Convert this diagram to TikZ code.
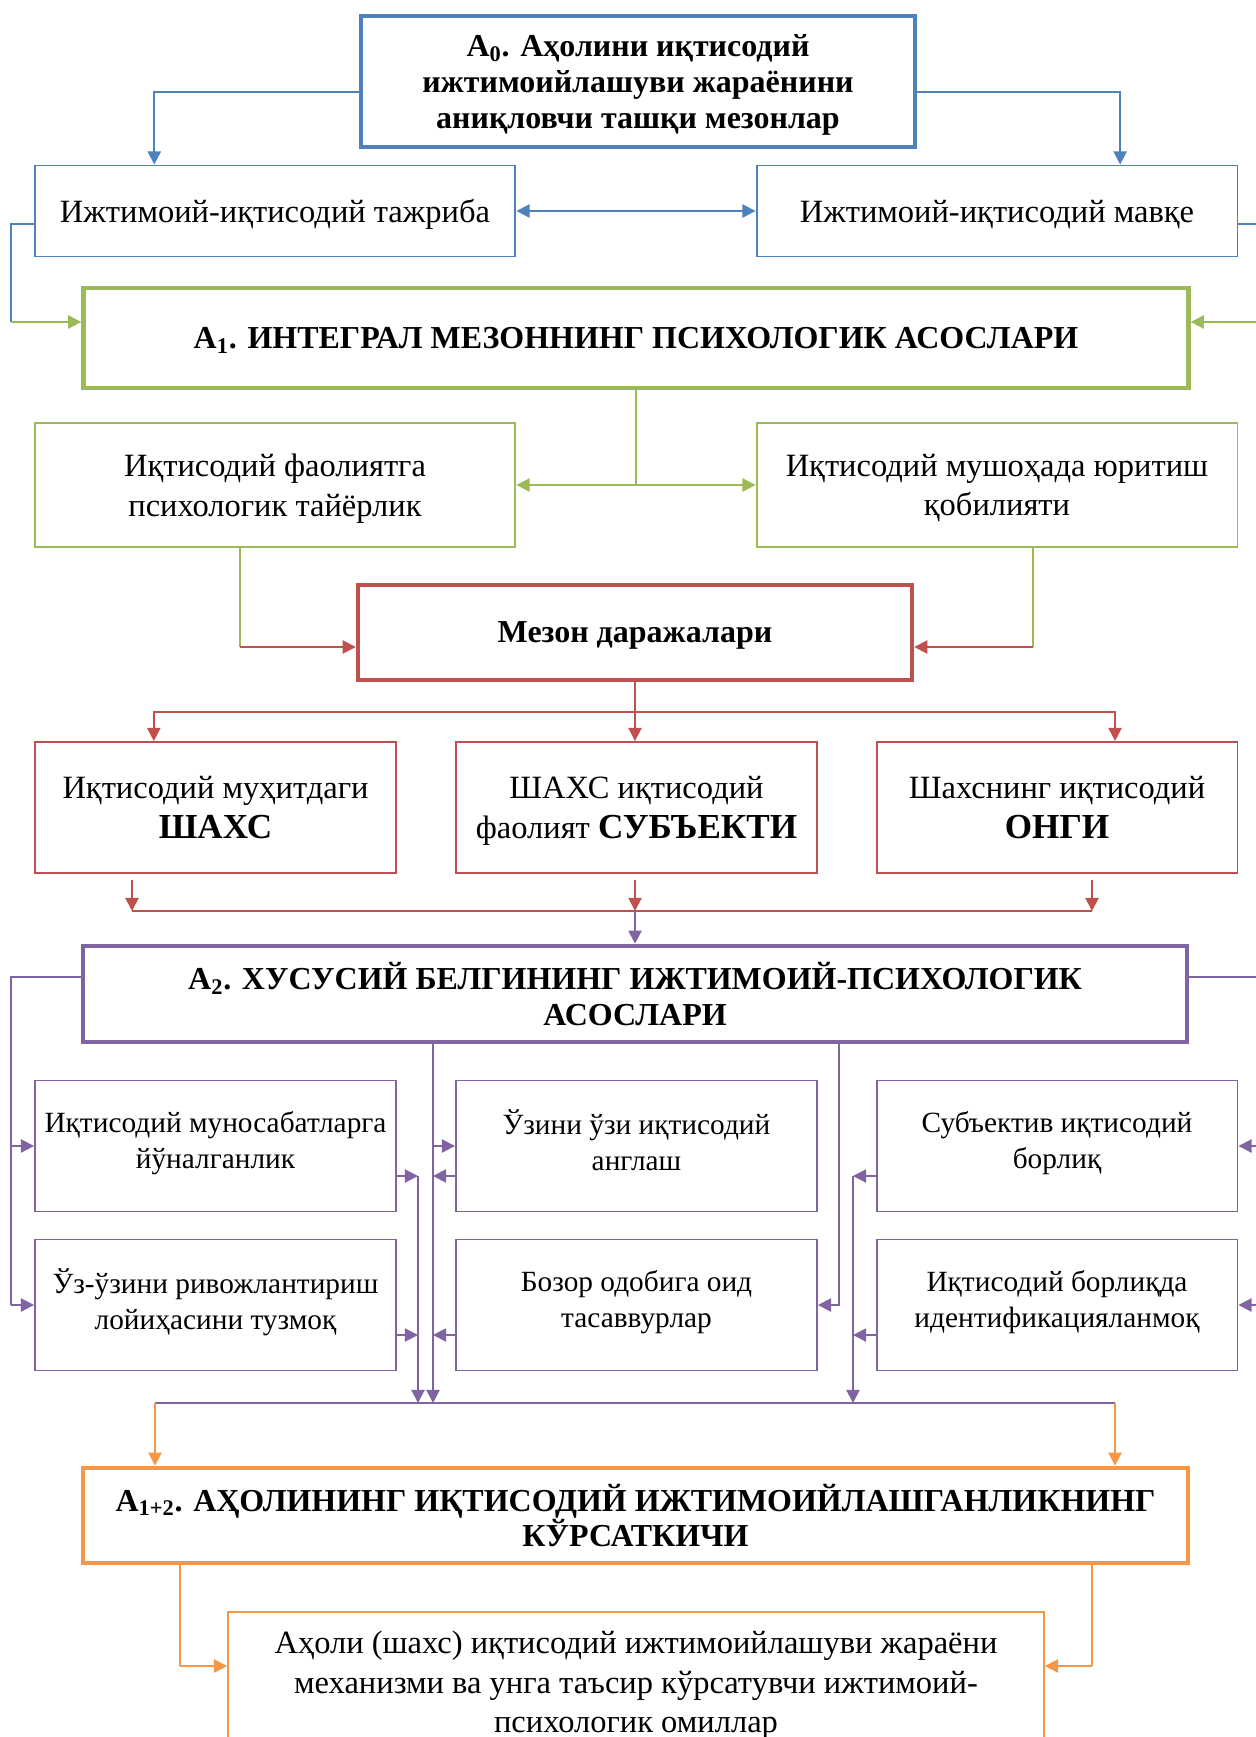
\documentclass[tikz,border=0pt]{standalone}
\usepackage{fontspec}
\setmainfont{Liberation Serif}
\usetikzlibrary{arrows.meta,calc}
\tikzset{
	>={Triangle[length=7.5pt,width=7.5pt]},
}
\definecolor{mblue}{HTML}{4F81BD}
\definecolor{mgreen}{HTML}{9BBB59}
\definecolor{mred}{HTML}{C0504D}
\definecolor{mpurple}{HTML}{8064A2}
\definecolor{morange}{HTML}{F79646}
\newcommand{\bigcaps}[1]{{\fontsize{20}{22}\selectfont\bfseries #1}}

\begin{document}
\begin{tikzpicture}[x=0.02cm, y=-0.02cm,
box/.style = {rectangle, draw, align=center, inner sep=0, text depth=0pt, line width=1.1pt, font=\fontsize{18.5}{22.5}\selectfont},
mainbox/.style = {box, line width=2.6pt, font=\fontsize{18.2}{20.3}\selectfont\bfseries},
wide/.style = {minimum width=9.62cm},
narrow/.style = {minimum width=7.22cm, minimum height=2.62cm},
small/.style = {narrow, draw=mpurple, text depth=7pt, font=\fontsize{16.7}{20.5}\selectfont},
link/.style = {line width=1.1pt}]
\useasboundingbox (0,0) rectangle (1256,1737);

\node[mainbox, draw=mblue, minimum width=11.08cm, minimum height=2.62cm] (a0) at (638,81.5) {A\textsubscript{0}. Аҳолини иқтисодий\\ижтимоийлашуви жараёнини\\аниқловчи ташқи мезонлар};
\node[box, wide, draw=mblue, minimum height=1.82cm] (tajriba) at (275,211) {Ижтимоий-иқтисодий тажриба};
\node[box, wide, draw=mblue, minimum height=1.82cm] (mavqe) at (997,211) {Ижтимоий-иқтисодий мавқе};
\node[mainbox, draw=mgreen, minimum width=22.1cm, minimum height=2cm] (a1) at (636,338) {A\textsubscript{1}. ИНТЕГРАЛ МЕЗОННИНГ ПСИХОЛОГИК АСОСЛАРИ};
\node[box, wide, draw=mgreen, minimum height=2.48cm] (tayyor) at (275,485) {Иқтисодий фаолиятга\\психологик тайёрлик};
\node[box, wide, draw=mgreen, minimum height=2.48cm] (mushohada) at (997,485) {Иқтисодий мушоҳада юритиш\\қобилияти};
\node[mainbox, draw=mred, minimum width=11.08cm, minimum height=1.9cm] (mezon) at (635,632.5) {Мезон даражалари};
\node[box, narrow, draw=mred] (shaxs) at (215.5,807.5) {Иқтисодий муҳитдаги\\\bigcaps{ШАХС}};
\node[box, narrow, draw=mred] (subyekt) at (636.5,807.5) {ШАХС иқтисодий\\фаолият \bigcaps{СУБЪЕКТИ}};
\node[box, narrow, draw=mred] (ongi) at (1057,807.5) {Шахснинг иқтисодий\\\bigcaps{ОНГИ}};
\node[mainbox, draw=mpurple, minimum width=22.08cm, minimum height=1.92cm] (a2) at (635,994) {A\textsubscript{2}. ХУСУСИЙ БЕЛГИНИНГ ИЖТИМОИЙ-ПСИХОЛОГИК\\АСОСЛАРИ};
\node[box, small] (m11) at (215.5,1146) {Иқтисодий муносабатларга\\йўналганлик};
\node[box, small] (m12) at (636.5,1146) {Ўзини ўзи иқтисодий\\англаш};
\node[box, small] (m13) at (1057,1146) {Субъектив иқтисодий\\борлиқ};
\node[box, small] (m21) at (215.5,1305) {Ўз-ўзини ривожлантириш\\лойиҳасини тузмоқ};
\node[box, small] (m22) at (636.5,1305) {Бозор одобига оид\\тасаввурлар};
\node[box, small] (m23) at (1057,1305) {Иқтисодий борлиқда\\идентификацияланмоқ};
\node[mainbox, draw=morange, minimum width=22.1cm, minimum height=1.9cm] (a12) at (635.5,1515.5) {A\textsubscript{1+2}. АҲОЛИНИНГ ИҚТИСОДИЙ ИЖТИМОИЙЛАШГАНЛИКНИНГ\\КЎРСАТКИЧИ};
\node[box, draw=morange, minimum width=16.32cm, minimum height=2.8cm] (omil) at (636,1682) {Аҳоли (шахс) иқтисодий ижтимоийлашуви жараёни\\механизми ва унга таъсир кўрсатувчи ижтимоий-\\психологик омиллар};

\coordinate (lc1) at (11,322);
\coordinate (rc1) at (1262,322);
\coordinate (gl) at (240,647);
\coordinate (gr) at (1033,647);
\coordinate (rbus) at (635,712);
\coordinate (pl) at (132,911);
\coordinate (pm) at (635,911);
\coordinate (pr) at (1092,911);
\coordinate (lc2) at (11,1305);
\coordinate (rc2) at (1262,1305);
\coordinate (colA) at (418,1403);
\coordinate (colB) at (433,1403);
\coordinate (tapC) at (839,1305);
\coordinate (colC) at (853,1403);
\coordinate (ol) at (155,1403);
\coordinate (or) at (1115,1403);
\coordinate (ql) at (180,1666);
\coordinate (qr) at (1092,1666);

\draw[link, mblue, ->] ([yshift=-0.21cm]a0.west) -| ($(tajriba.north west)!0.25!(tajriba.north east)$);
\draw[link, mblue, ->] ([yshift=-0.21cm]a0.east) -| ($(mavqe.north west)!0.755!(mavqe.north east)$);
\draw[link, mblue, <->] (tajriba) -- (mavqe);
\draw[link, mblue] ([yshift=-0.26cm]tajriba.west) -| (lc1);
\draw[link, mblue] ([yshift=-0.26cm]mavqe.east) -| (rc1);
\draw[link, mgreen, ->] (lc1) -- (lc1 -| a1.west);
\draw[link, mgreen, ->] (rc1) -- (rc1 -| a1.east);

\draw[link, mgreen] (a1.south) -- (a1.south |- tayyor.east);
\draw[link, mgreen, <->] (tayyor.east) -- (mushohada.west);
\draw[link, mgreen] (gl |- tayyor.south) -- (gl);
\draw[link, mgreen] (gr |- mushohada.south) -- (gr);
\draw[link, mred, ->] (gl) -- (gl -| mezon.west);
\draw[link, mred, ->] (gr) -- (gr -| mezon.east);

\draw[link, mred, ->] (mezon.south) -- (mezon.south |- subyekt.north);
\draw[link, mred, ->] (rbus) -| ($(shaxs.north west)!0.33!(shaxs.north east)$);
\draw[link, mred, ->] (rbus) -| ($(ongi.north west)!0.66!(ongi.north east)$);
\draw[link, mred, ->] ([yshift=-0.12cm]pl |- shaxs.south) -- (pl);
\draw[link, mred, ->] ([yshift=-0.12cm]pm |- subyekt.south) -- (pm);
\draw[link, mred, ->] ([yshift=-0.12cm]pr |- ongi.south) -- (pr);
\draw[link, mred, line width=1.6pt] (pl) -- (pr);
\draw[link, mpurple, ->] (pm) -- (pm |- a2.north);

\draw[link, mpurple] ([yshift=0.34cm]a2.west) -| (lc2);
\draw[link, mpurple, ->] (lc2 |- m11.west) -- (m11.west);
\draw[link, mpurple, ->] (lc2) -- (m21.west);
\draw[link, mpurple] ([yshift=0.34cm]a2.east) -| (rc2);
\draw[link, mpurple, ->] (rc2 |- m13.east) -- (m13.east);
\draw[link, mpurple, ->] (rc2) -- (m23.east);

\draw[link, mpurple, ->] (colB |- a2.south) -- (colB);
\draw[link, mpurple, ->] (colB |- m12.west) -- (m12.west);
\draw[link, mpurple, ->] (tapC |- a2.south) |- (m22.east);
\draw[link, mpurple, ->] ([yshift=-0.6cm]m11.east) -- ([yshift=-0.6cm]m11.east -| colA);
\draw[link, mpurple, ->] ([yshift=-0.6cm]m21.east) -- ([yshift=-0.6cm]m21.east -| colA);
\draw[link, mpurple, ->] ([yshift=-0.6cm]m12.west) -- ([yshift=-0.6cm]m12.west -| colB);
\draw[link, mpurple, ->] ([yshift=-0.6cm]m22.west) -- ([yshift=-0.6cm]m22.west -| colB);
\draw[link, mpurple, ->] ([yshift=-0.6cm]m13.west) -- ([yshift=-0.6cm]m13.west -| colC);
\draw[link, mpurple, ->] ([yshift=-0.6cm]m23.west) -- ([yshift=-0.6cm]m23.west -| colC);
\draw[link, mpurple, ->] ([yshift=-0.6cm]m11.east -| colA) -- (colA);
\draw[link, mpurple, ->] ([yshift=-0.6cm]m13.west -| colC) -- (colC);
\draw[link, mpurple, line width=1.6pt] (ol) -- (or);

\draw[link, morange, ->] (ol) -- (ol |- a12.north);
\draw[link, morange, ->] (or) -- (or |- a12.north);
\draw[link, morange] (ql |- a12.south) -- (ql);
\draw[link, morange] (qr |- a12.south) -- (qr);
\draw[link, morange, ->] (ql) -- (ql -| omil.west);
\draw[link, morange, ->] (qr) -- (qr -| omil.east);
\end{tikzpicture}
\end{document}
